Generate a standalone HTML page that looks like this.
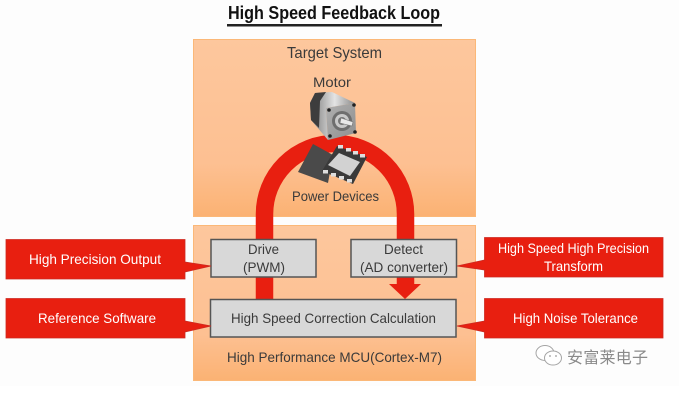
<!DOCTYPE html>
<html><head><meta charset="utf-8"><style>
html,body{margin:0;padding:0;background:#fff}
svg{display:block}
text{font-family:"Liberation Sans","Noto Sans CJK SC",sans-serif;fill:#3a3a3a;font-size:14px}
.w{fill:#fff}
</style></head><body>
<svg width="679" height="413" viewBox="0 0 679 413" xmlns="http://www.w3.org/2000/svg">
<defs>
<linearGradient id="o" x1="0" y1="0" x2="0" y2="1"><stop offset="0" stop-color="#fdc79d"/><stop offset=".7" stop-color="#fdc092"/><stop offset="1" stop-color="#fbb273"/></linearGradient>
<linearGradient id="m" x1="0" y1="0" x2="1" y2="1"><stop offset="0" stop-color="#b0b0b0"/><stop offset="1" stop-color="#8f8f8f"/></linearGradient>
<linearGradient id="b" x1="0" y1="0" x2="1" y2="0"><stop offset="0" stop-color="#777"/><stop offset=".55" stop-color="#e4e4e4"/><stop offset="1" stop-color="#8a8a8a"/></linearGradient>
</defs>
<rect width="679" height="386" fill="#fdfdfd"/>
<text x="228" y="19" font-weight="bold" textLength="212" lengthAdjust="spacingAndGlyphs" style="font-size:18px;fill:#111">High Speed Feedback Loop</text>
<rect x="227" y="24" width="215" height="2.5" fill="#222"/>
<rect x="193.500" y="39.500" width="282" height="177" fill="url(#o)" stroke="#fbb878"/>
<rect x="193.500" y="225.500" width="282" height="155" fill="url(#o)" stroke="#fbb878"/>
<text x="287" y="58" textLength="95" lengthAdjust="spacingAndGlyphs" style="font-size:16px">Target System</text>
<text x="313" y="87" textLength="38" lengthAdjust="spacingAndGlyphs">Motor</text>
<path d="M264.500 300V214A70.500 70.500 0 0 1 405.500 214V286" fill="none" stroke="#e81f10" stroke-width="17.500"/>
<path d="M389 284H421L405 299Z" fill="#e81f10"/>
<!-- motor -->
<path d="M310 103L315 93L332 92L355 103L326 108L328 140L311 120Z" fill="url(#b)"/>
<path d="M310 103L315 93L326 92L320 101L319 128L311 120Z" fill="#3d3d3d"/>
<path d="M326 108L355 103L356 133L328 140Z" fill="url(#m)"/>
<circle cx="342" cy="121" r="10" fill="#6e6e6e"/><circle cx="342" cy="121" r="7" fill="#c9c9c9"/><circle cx="342" cy="121" r="4" fill="#777"/>
<path d="M341 118L353 122L352 126L340 123Z" fill="#e8e8e8" stroke="#777" stroke-width=".6"/>
<g fill="#222"><circle cx="329" cy="110" r="1.800"/><circle cx="354" cy="105" r="1.800"/><circle cx="355" cy="132" r="1.800"/><circle cx="330" cy="136" r="1.800"/></g>
<!-- chips -->
<path d="M298 172L313 144L333 155L328 183Z" fill="#4a4a4a"/>
<path d="M322 171L337 146L367 157L353 184Z" fill="#3a3a3a"/>
<path d="M328 165L339 153L360 162L350 176Z" fill="#d2d2d2"/>
<g fill="#dedede"><rect x="338" y="145" width="5" height="3.500"/><rect x="346" y="148" width="5" height="3.500"/><rect x="353" y="151" width="5" height="3.500"/><rect x="360" y="154" width="5" height="3.500"/><rect x="323" y="170" width="5" height="3.500"/><rect x="331" y="173" width="5" height="3.500"/><rect x="339" y="176" width="5" height="3.500"/><rect x="347" y="179" width="5" height="3.500"/></g>
<text x="292" y="201" textLength="87" lengthAdjust="spacingAndGlyphs">Power Devices</text>
<!-- blocks -->
<g fill="#d8d8d8" stroke="#555" stroke-width="1.500">
<rect x="211" y="239.500" width="105" height="37.500"/>
<rect x="351" y="239.500" width="105.500" height="37.500"/>
<rect x="210.500" y="299.500" width="245.500" height="37.500"/>
</g>
<text x="248" y="254" textLength="31" lengthAdjust="spacingAndGlyphs">Drive</text>
<text x="243" y="272" textLength="42" lengthAdjust="spacingAndGlyphs">(PWM)</text>
<text x="384" y="254" textLength="39" lengthAdjust="spacingAndGlyphs">Detect</text>
<text x="360" y="272" textLength="88" lengthAdjust="spacingAndGlyphs">(AD converter)</text>
<text x="231" y="323" textLength="205" lengthAdjust="spacingAndGlyphs">High Speed Correction Calculation</text>
<text x="227" y="362" textLength="215" lengthAdjust="spacingAndGlyphs">High Performance MCU(Cortex-M7)</text>
<!-- callouts -->
<g fill="#e81f10" stroke="#cc2a20" stroke-width=".8">
<path d="M6 239.500H185V262L211 266L185 272V279H6Z"/>
<path d="M6 298.500H185V321L211 326L185 332V338H6Z"/>
<path d="M484.500 237.500H663V277H484.500V270L457 266L484.500 260Z"/>
<path d="M484.500 298.500H663V338H484.500V332L457 326L484.500 321Z"/>
</g>
<text class="w" x="29" y="264" textLength="132" lengthAdjust="spacingAndGlyphs">High Precision Output</text>
<text class="w" x="38" y="323" textLength="118" lengthAdjust="spacingAndGlyphs">Reference Software</text>
<text class="w" x="498" y="253" textLength="151" lengthAdjust="spacingAndGlyphs">High Speed High Precision</text>
<text class="w" x="544" y="271" textLength="59" lengthAdjust="spacingAndGlyphs">Transform</text>
<text class="w" x="513" y="323" textLength="125" lengthAdjust="spacingAndGlyphs">High Noise Tolerance</text>
<!-- watermark -->
<g fill="#fff" stroke="#a5a5a5" stroke-width="1">
<ellipse cx="545" cy="353" rx="9" ry="7.500"/>
<ellipse cx="553" cy="358" rx="8.500" ry="7"/>
</g>
<circle cx="550" cy="356" r=".9" fill="#999"/><circle cx="556" cy="356" r=".9" fill="#999"/>
<text x="567" y="363" textLength="81" style="font-size:16px;fill:#8a8a8a">安富莱电子</text>
</svg>
</body></html>
